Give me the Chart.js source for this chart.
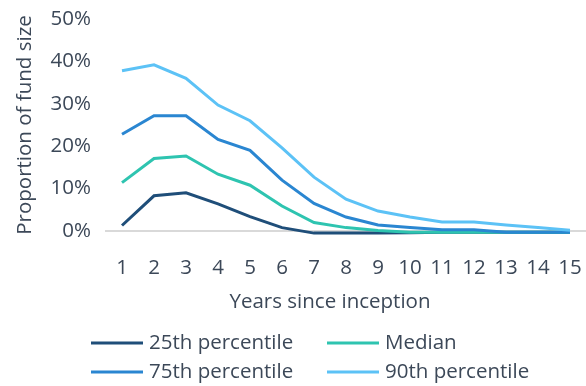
<!DOCTYPE html>
<html>
<head>
<meta charset="utf-8">
<script src="https://cdn.jsdelivr.net/npm/chart.js@4/dist/chart.umd.min.js"></script>
<style>
  html, body { margin: 0; padding: 0; background: #fff; }
  #wrap { width: 586px; height: 386px; position: relative; }
</style>
</head>
<body>
<div id="wrap"><canvas id="chart"></canvas></div>
<script>
// years since inception
const years = ['1', '2', '3', '4', '5', '6', '7', '8', '9', '10', '11', '12', '13', '14', '15'];
// proportion of fund size, in %
const p25 = [1.3, 8.3, 9.0, 6.4, 3.4, 0.8, -0.5, -0.5, -0.5, -0.4, -0.3, -0.3, -0.3, -0.3, -0.3];
const median = [11.4, 17.1, 17.7, 13.4, 10.8, 5.9, 2.0, 0.8, 0.1, -0.3, -0.3, -0.3, -0.3, -0.3, -0.3];
const p75 = [22.8, 27.2, 27.2, 21.6, 19.0, 12.0, 6.5, 3.3, 1.4, 0.8, 0.3, 0.3, -0.3, -0.3, -0.3];
const p90 = [37.8, 39.2, 36.0, 29.7, 26.0, 19.6, 12.7, 7.5, 4.7, 3.3, 2.1, 2.1, 1.4, 0.8, 0.2];
const yTicks = [0, 10, 20, 30, 40, 50];

const seriesNames = ['25th percentile', 'Median', '75th percentile', '90th percentile'];
const seriesColors = ['#1f4e79', '#2ec4b0', '#2a86d1', '#5cc2f6'];
const xTitle = 'Years since inception';
const yTitle = 'Proportion of fund size';

const textColor = '#3c4858';
const fontFam = '"Open Sans", "Noto Sans", sans-serif';
const fontSize = 20.5;

// x axis title (Excel centres it a bit left of the plot) and a two-column legend
const legendPlugin = {
    id: 'gridLegend',
    afterDraw(chart) {
        const ctx = chart.ctx;
        const area = chart.chartArea;
        ctx.save();
        ctx.font = fontSize + 'px ' + fontFam;
        ctx.textBaseline = 'middle';
        ctx.fillStyle = textColor;
        ctx.textAlign = 'center';
        ctx.fillText(xTitle, area.left + 224, area.bottom + 71);

        const cols = [area.left - 15, area.left + 221];
        const rows = [area.bottom + 112, area.bottom + 141];
        ctx.textAlign = 'left';
        chart.data.datasets.forEach((ds, i) => {
            const x = cols[i % 2];
            const y = rows[Math.floor(i / 2)];
            ctx.strokeStyle = ds.borderColor;
            ctx.lineWidth = 3;
            ctx.beginPath();
            ctx.moveTo(x, y);
            ctx.lineTo(x + 52, y);
            ctx.stroke();
            ctx.fillStyle = textColor;
            ctx.fillText(ds.label, x + 58, y);
        });
        ctx.restore();
    }
};

const datasets = [p25, median, p75, p90].map((vals, i) => ({
    label: seriesNames[i],
    data: vals,
    borderColor: seriesColors[i],
    backgroundColor: seriesColors[i],
    borderWidth: 3,
    pointRadius: 0,
    tension: 0,
    clip: false,
    order: 4 - i
}));

new Chart(document.getElementById('chart'), {
    type: 'line',
    data: { labels: years, datasets: datasets },
    options: {
        responsive: true,
        maintainAspectRatio: false,
        animation: false,
        layout: { padding: { top: 19, right: 0, bottom: 71, left: 0 } },
        plugins: {
            legend: { display: false },
            tooltip: { enabled: false }
        },
        scales: {
            x: {
                offset: true,
                afterFit: s => { s.height = 84; s.paddingLeft = 0; s.paddingRight = 0; },
                grid: { display: false, drawTicks: false },
                border: { display: true, color: '#d9d9d9', width: 2 },
                ticks: { color: textColor, font: { family: fontFam, size: fontSize }, padding: 25, maxRotation: 0, autoSkip: false },
                title: { display: false }
            },
            y: {
                min: yTicks[0],
                max: yTicks[yTicks.length - 1],
                afterBuildTicks: s => { s.ticks = yTicks.map(v => ({ value: v })); },
                afterFit: s => { s.width = 106; s.paddingTop = 0; s.paddingBottom = 0; },
                grid: { display: false, drawTicks: false },
                border: { display: false },
                ticks: { color: textColor, font: { family: fontFam, size: fontSize }, padding: 15, callback: v => v + '%' },
                title: { display: true, text: yTitle, color: textColor, font: { family: fontFam, size: fontSize }, padding: { top: 13, bottom: 0 } }
            }
        }
    },
    plugins: [legendPlugin]
});
</script>
</body>
</html>
